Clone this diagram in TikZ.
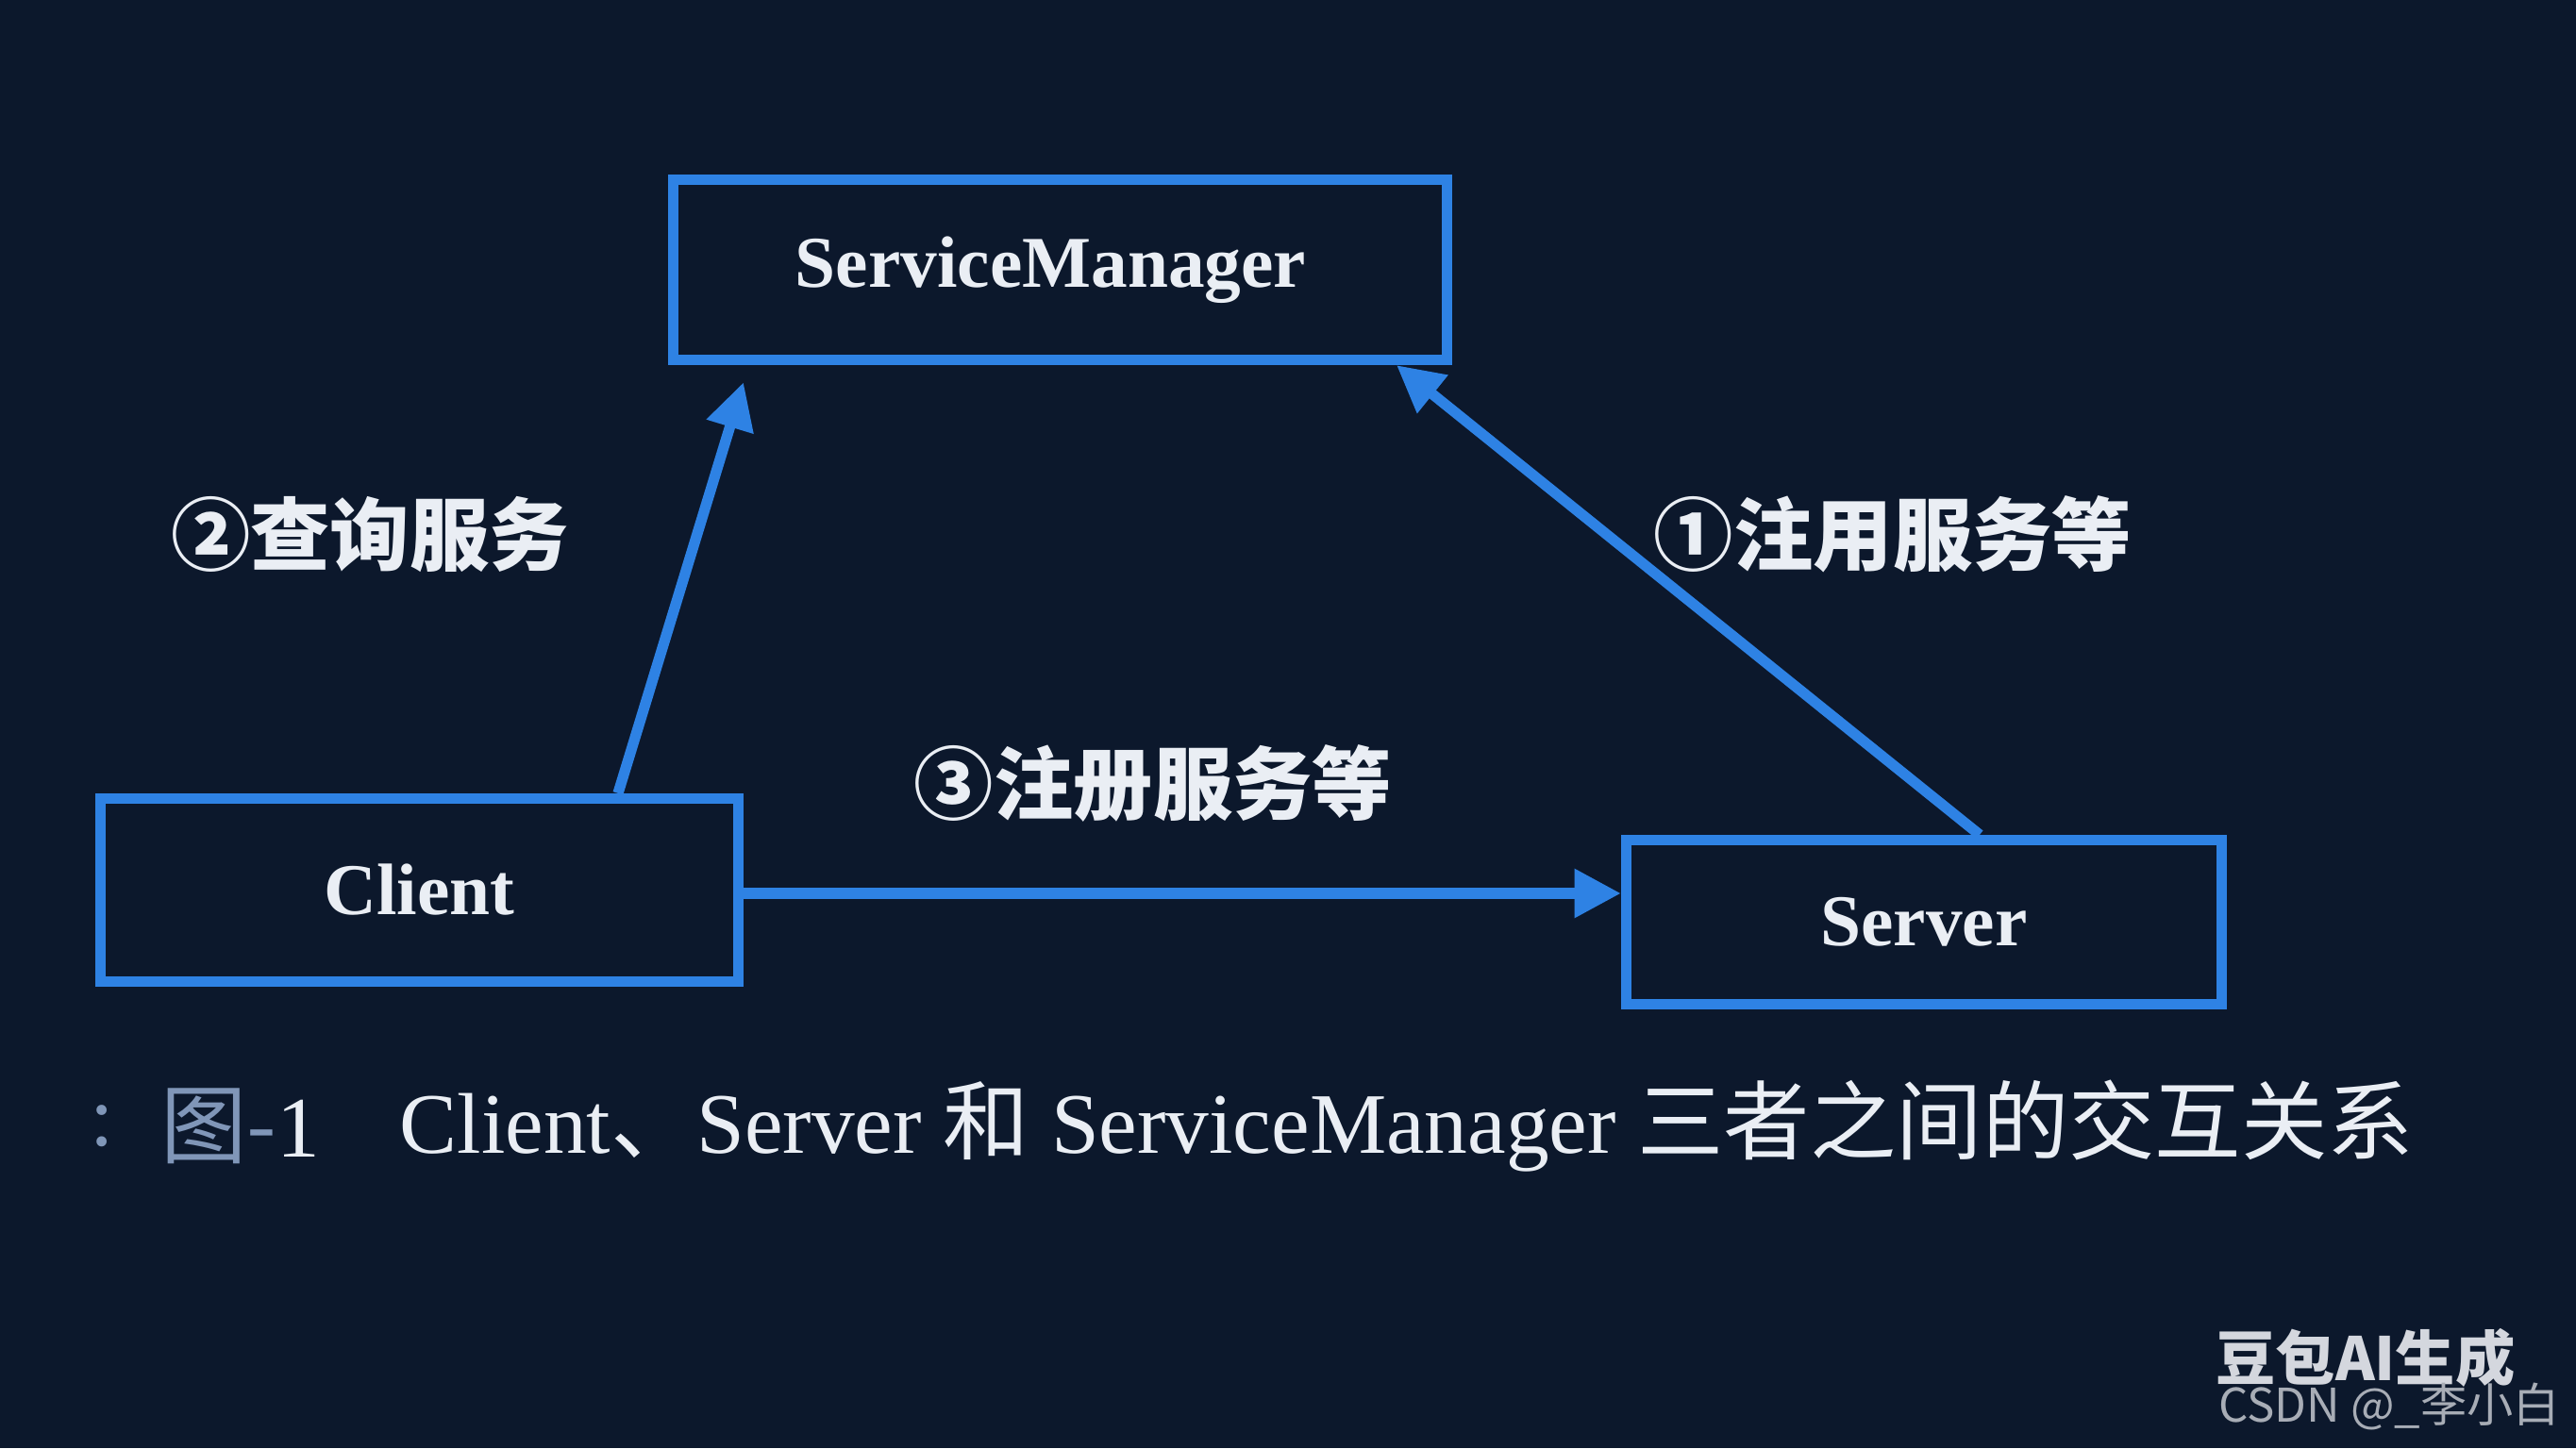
\documentclass[tikz,border=0pt]{standalone}
\usepackage{fontspec}
\usepackage{tikz}
\usetikzlibrary{arrows.meta}
\setmainfont{Liberation Serif}
\newfontfamily\cjk{Noto Sans CJK SC}
\definecolor{bgnavy}{RGB}{12,24,44}
\definecolor{boxblue}{RGB}{46,130,228}
\definecolor{txtwhite}{RGB}{234,238,244}
\definecolor{capgray}{RGB}{128,150,184}
\definecolor{wmlight}{RGB}{212,215,222}
\definecolor{wmgray}{RGB}{168,173,182}
\tikzset{node distance=2.0cm, auto,
  box/.style={draw=boxblue, line width=3.2pt, fill=bgnavy, text=txtwhite,
    font=\bfseries\fontsize{22}{26}\selectfont, inner sep=0pt},
  arr/.style={draw=boxblue, line width=3.2pt, -{Triangle[length=14pt,width=14pt]}},
  lbl/.style={text=txtwhite, font=\cjk\bfseries\fontsize{24}{28}\selectfont, inner sep=0pt},
  captext/.style={text=txtwhite, font=\fontsize{26}{30}\selectfont, inner sep=0pt}}
\begin{document}
\begin{tikzpicture}
\fill[bgnavy] (0,0) rectangle (27.3,15.35);
\useasboundingbox (0,0) rectangle (27.3,15.35);
\node[box, minimum width=8.2cm, minimum height=1.91cm] (sm) at (11.235,12.49) {\hspace*{-0.2cm}ServiceManager};
\node[box, minimum width=6.76cm, minimum height=1.94cm] (cl) at (4.445,5.915) {Client};
\node[box, minimum width=6.31cm, minimum height=1.74cm] (sv) at (20.39,5.575) {Server};
\draw[arr, shorten >=0.19cm] ([xshift=2.105cm]cl.north) -- ([xshift=-3.3cm]sm.south);
\draw[arr] ([xshift=0.59cm]sv.north) -- ([xshift=3.565cm]sm.south);
\draw[arr] ([yshift=-0.035cm]cl.east) -- ([yshift=-0.035cm]cl.east -| sv.west);
\node[lbl] (query) at (3.92,9.69) {②查询服务};
\node[lbl] (reg) at (20.06,9.69) {①注用服务等};
\node[lbl] (call) at (12.22,7.05) {③注册服务等};
\node[captext, text=capgray] (colon) at (1.08,3.41) {:};
\node[captext] (fig) at (2.55,3.41) {{\color{capgray}\cjk 图-}1};
\node[captext, anchor=west] (caption) at (4.23,3.41) {Client{\cjk 、}Server {\cjk 和} ServiceManager {\cjk 三者之间的交互关系}};
\node[text=wmlight, font=\cjk\bfseries\fontsize{18}{21}\selectfont] (wm) at (25.07,0.96) {豆包AI生成};
\node[text=wmgray, font=\cjk\fontsize{14}{16}\selectfont] (csdn) at (25.32,0.44) {CSDN @\_李小白};
\end{tikzpicture}
\end{document}
